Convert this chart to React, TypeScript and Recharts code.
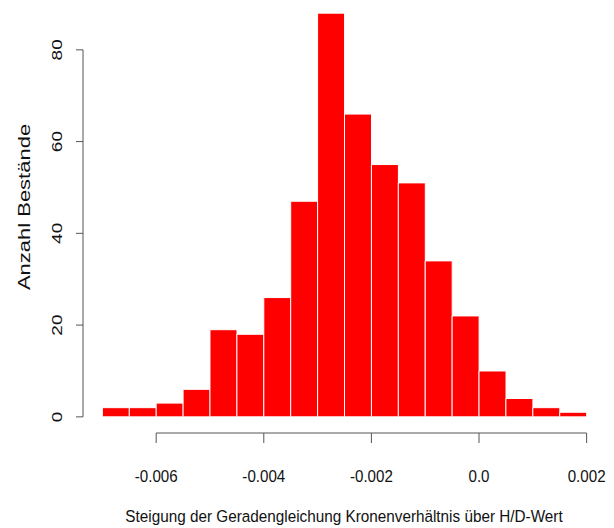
import React from 'react';
import { ComposedChart, Bar, XAxis, YAxis, ReferenceLine, Label } from 'recharts';

const binStarts = [
  -0.007, -0.0065, -0.006, -0.0055, -0.005, -0.0045, -0.004, -0.0035, -0.003,
  -0.0025, -0.002, -0.0015, -0.001, -0.0005, 0, 0.0005, 0.001, 0.0015,
];
const binWidth = 0.0005;
const counts = [2, 2, 3, 6, 19, 18, 26, 47, 88, 66, 55, 51, 34, 22, 10, 4, 2, 1];
const xTicks = [-0.006, -0.004, -0.002, 0, 0.002];
const xTickLabels = ['-0.006', '-0.004', '-0.002', '0.0', '0.002'];
const yTicks = [0, 20, 40, 60, 80];
const xTitle = 'Steigung der Geradengleichung Kronenverhältnis über H/D-Wert';
const yTitle = 'Anzahl Bestände';

// R-style usr extents (range extended by 4%)
const xMin = -0.007;
const xMax = 0.002;
const xPad = (xMax - xMin) * 0.04;
const yMaxData = Math.max(...counts);
const yPad = yMaxData * 0.04;

const data = binStarts.map((s, i) => ({ mid: s + binWidth / 2, count: counts[i] }));

const axisColor = '#555';
const font = '"Liberation Sans", Arial, Helvetica, sans-serif';

const XTick = (props: any) => {
  const { x, y, payload } = props;
  const idx = xTicks.findIndex((t) => Math.abs(t - payload.value) < 1e-9);
  return (
    <g>
      <line x1={x} x2={x} y1={y} y2={y + 10} stroke={axisColor} strokeWidth={1} />
      <text
        transform={`translate(${x},${y + 48.5}) scale(0.89,1)`}
        textAnchor="middle"
        fontSize={17}
        fontFamily={font}
        fill="#111"
      >
        {idx >= 0 ? xTickLabels[idx] : payload.value}
      </text>
    </g>
  );
};

const YTick = (props: any) => {
  const { x, y, payload } = props;
  return (
    <g>
      <line x1={x - 7} x2={x} y1={y} y2={y} stroke={axisColor} strokeWidth={1} />
      <text
        transform={`translate(${x - 21},${y}) rotate(-90) scale(1,0.8)`}
        textAnchor="middle"
        fontSize={19}
        fontFamily={font}
        fill="#111"
      >
        {payload.value}
      </text>
    </g>
  );
};

export default function App() {
  return (
    <div style={{ width: 614, height: 528 }}>
      <style>{`body{margin:0;}`}</style>
      <ComposedChart
        width={614}
        height={528}
        data={data}
        margin={{ top: -3, right: 8, bottom: 5, left: 3 }}
        barCategoryGap={0}
        barGap={0}
      >
        <XAxis
          type="number"
          dataKey="mid"
          domain={[xMin - xPad, xMax + xPad]}
          ticks={xTicks}
          interval={0}
          axisLine={false}
          tickLine={false}
          tickSize={0}
          tickMargin={0}
          tick={<XTick />}
          height={90}
        >
          <Label
            content={() => (
              <text
                transform={`translate(${344},${522}) scale(0.9,1)`}
                textAnchor="middle"
                fontSize={17}
                fontFamily={font}
                fill="#111"
              >
                {xTitle}
              </text>
            )}
          />
        </XAxis>
        <YAxis
          type="number"
          domain={[-yPad, yMaxData + yPad]}
          ticks={yTicks}
          interval={0}
          axisLine={false}
          tickLine={false}
          tickSize={0}
          tickMargin={0}
          tick={<YTick />}
          width={80}
        >
          <Label
            content={() => (
              <text
                transform={`translate(${30},${207}) rotate(-90) scale(1,0.72)`}
                textAnchor="middle"
                fontSize={22}
                fontFamily={font}
                fill="#111"
              >
                {yTitle}
              </text>
            )}
          />
        </YAxis>
        <ReferenceLine
          segment={[
            { x: xTicks[0], y: -yPad },
            { x: xTicks[xTicks.length - 1], y: -yPad },
          ]}
          stroke={axisColor}
          strokeWidth={1}
          ifOverflow="visible"
        />
        <ReferenceLine
          segment={[
            { x: xMin - xPad, y: yTicks[0] },
            { x: xMin - xPad, y: yTicks[yTicks.length - 1] },
          ]}
          stroke={axisColor}
          strokeWidth={1}
          ifOverflow="visible"
        />
        <Bar dataKey="count" fill="#ff0000" stroke="#ffffff" strokeWidth={1} isAnimationActive={false} />
      </ComposedChart>
    </div>
  );
}
